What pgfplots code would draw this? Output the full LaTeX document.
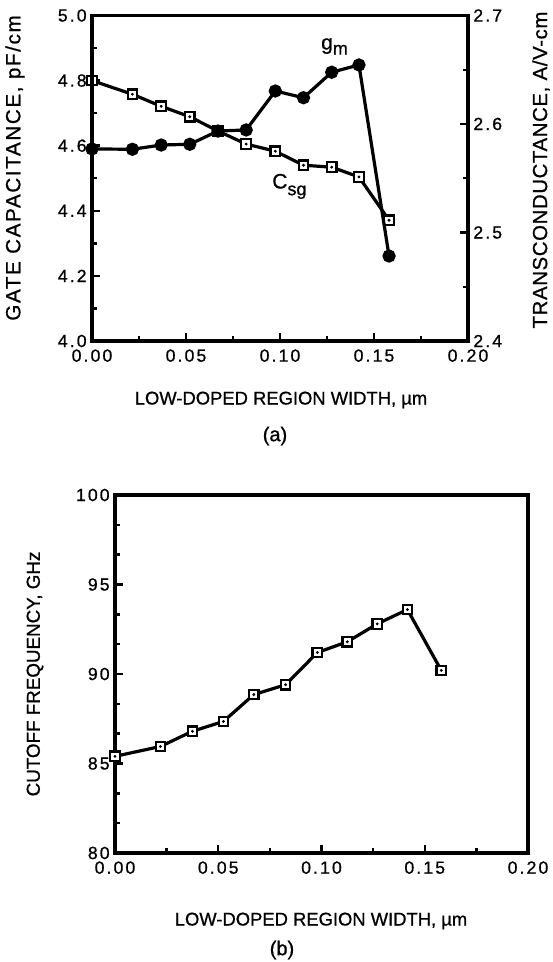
\documentclass[border=0pt]{standalone}
\usepackage{fontspec}
\setmainfont{Liberation Sans}[FakeBold=0.8]
\newfontfamily\tickfont[LetterSpace=12,FakeBold=0.8]{Liberation Sans}
\newfontfamily\ylabfontA[LetterSpace=8,FakeBold=0.8]{Liberation Sans}
\newfontfamily\ylabfontB[LetterSpace=3,FakeBold=0.8]{Liberation Sans}
\usepackage{pgfplots}
\usepackage{pgfplotstable}
\pgfplotsset{compat=1.18}

\pgfplotstableread{
x       csg    gm
0.0     4.800  2.5770
0.0215  4.758  2.5767
0.0368  4.721  2.5806
0.0520  4.689  2.5813
0.0670  4.645  2.5935
0.0820  4.605  2.5945
0.0975  4.583  2.6304
0.1125  4.540  2.6242
0.1275  4.534  2.6477
0.1420  4.504  2.6544
0.1580  4.371  2.4783
}\topdata

\pgfplotstableread{
x       ft
0.0     85.40
0.0220  85.95
0.0375  86.80
0.0525  87.35
0.0672  88.85
0.0826  89.40
0.0980  91.20
0.1125  91.80
0.1270  92.80
0.1416  93.60
0.1580  90.20
}\botdata

\pgfplotsset{
  base/.style={
    scale only axis, clip=false,
    axis line style={line width=1.8pt},
    tick style={line width=1.2pt, black},
    major tick length=4pt, minor tick length=2.5pt,
    tick align=inside,
    /pgf/number format/assume math mode=true,
    ticklabel style={font=\tickfont\fontsize{8.8}{9}\selectfont},
    xticklabel style={inner ysep=4pt},
    yticklabel style={inner xsep=2.5pt},
    xmin=0, xmax=0.2,
    xtick={0,0.05,0.10,0.15,0.20},
    minor x tick num=1,
    xticklabel style={/pgf/number format/.cd, fixed, fixed zerofill, precision=2},
  },
  sqmark/.style={black, line width=1.6pt, mark=square*, mark size=2.4pt,
    mark options={fill=white, line width=1.1pt, solid}},
  dotmark/.style={only marks, mark=*, mark size=0.5pt, black},
}

\begin{document}
\begin{tikzpicture}[x=1pt,y=1pt]
\useasboundingbox (0,0) rectangle (276,481);

% ---------- (a) ----------
\begin{axis}[base, at={(46pt,310.5pt)}, anchor=south west,
  width=188pt, height=162.75pt,
  ymin=4, ymax=5, ytick={4,4.2,4.4,4.6,4.8,5.0}, minor y tick num=1,
  xtick pos=left, ytick pos=left,
  yticklabel style={/pgf/number format/.cd, fixed, fixed zerofill, precision=1}]
  \addplot[sqmark] table[x=x,y=csg] {\topdata};
  \addplot[dotmark] table[x=x,y=csg] {\topdata};
  \node[font=\fontsize{10.5}{12}\selectfont] at (axis cs:0.129,4.905) {g\raisebox{-0.45ex}{\fontsize{9}{10}\selectfont m}};
  \node[font=\fontsize{10.5}{12}\selectfont] at (axis cs:0.105,4.475) {C\raisebox{-0.6ex}{\fontsize{9}{10}\selectfont sg}};
\end{axis}
\begin{axis}[base, at={(46pt,310.5pt)}, anchor=south west,
  width=188pt, height=162.75pt,
  ymin=2.4, ymax=2.7, ytick={2.4,2.5,2.6,2.7}, minor y tick num=1,
  xtick=\empty, ytick pos=right,
  yticklabel style={/pgf/number format/.cd, fixed, fixed zerofill, precision=1}]
  \addplot[black, line width=1.6pt, mark=*, mark size=2.5pt] table[x=x,y=gm] {\topdata};
\end{axis}

\node[rotate=90, font=\ylabfontA\fontsize{10.3}{12}\selectfont] at (7.5,397) {GATE CAPACITANCE, pF/cm};
\node[rotate=90, font=\ylabfontB\fontsize{10.2}{12}\selectfont] at (270.5,396) {TRANSCONDUCTANCE, A/V-cm};
\node[font=\fontsize{9.2}{11}\selectfont] at (140.5,281) {LOW-DOPED REGION WIDTH, \textmu m};
\node[font=\fontsize{10}{11}\selectfont] at (137.5,263) {(a)};

% ---------- (b) ----------
\begin{axis}[base, at={(57.5pt,54.5pt)}, anchor=south west,
  width=206.5pt, height=179pt,
  ymin=80, ymax=100, ytick={80,85,90,95,100}, minor y tick num=2,
  xtick pos=left, ytick pos=left]
  \addplot[sqmark] table[x=x,y=ft] {\botdata};
  \addplot[dotmark] table[x=x,y=ft] {\botdata};
\end{axis}

\node[rotate=90, font=\fontsize{9.4}{11}\selectfont] at (17.5,144) {CUTOFF FREQUENCY, GHz};
\node[font=\fontsize{9.2}{11}\selectfont] at (160.5,20.5) {LOW-DOPED REGION WIDTH, \textmu m};
\node[font=\fontsize{10}{11}\selectfont] at (141,6) {(b)};
\end{tikzpicture}
\end{document}
